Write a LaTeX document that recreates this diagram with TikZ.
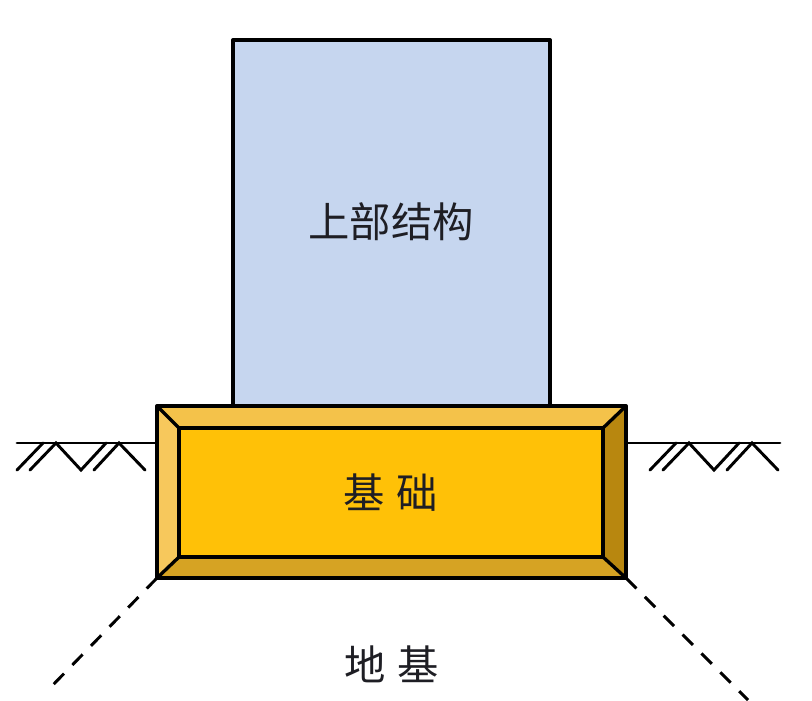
\documentclass[tikz,border=0pt]{standalone}
\usepackage{fontspec}
\newfontfamily\cjk{Noto Sans CJK SC}
\definecolor{blueFill}{HTML}{C6D6EF}
\definecolor{topB}{HTML}{F4C24A}
\definecolor{leftB}{HTML}{F7C85C}
\definecolor{midB}{HTML}{FFC107}
\definecolor{rightB}{HTML}{B8870F}
\definecolor{botB}{HTML}{D6A323}
\definecolor{txt}{HTML}{1E1E24}
\tikzset{
  edge/.style={line width=2.5pt, line join=round, draw=black},
  soil/.style={line width=2.2pt, line cap=round, line join=miter, draw=black},
  lbl/.style={font=\cjk\fontsize{31pt}{31pt}\selectfont, text=txt, inner sep=0pt},
  dashline/.style={line width=2.2pt, dash pattern=on 11pt off 9pt, draw=black}
}
\begin{document}
\begin{tikzpicture}[x=0.75pt,y=-0.75pt]
\useasboundingbox (0,0) rectangle (812,700);
\fill[white] (0,0) rectangle (812,700);
% upper structure
\draw[edge, fill=blueFill] (233,40) rectangle (550,420);
\node[lbl] (upper) at (391,222) {上部结构};
% foundation corners
\coordinate (o1) at (157,406);
\coordinate (o2) at (626,406);
\coordinate (o3) at (626,578);
\coordinate (o4) at (157,578);
\coordinate (i1) at (179,428);
\coordinate (i2) at (603,428);
\coordinate (i3) at (603,557);
\coordinate (i4) at (179,557);
\fill[topB] (o1) -- (o2) -- (i2) -- (i1) -- cycle;
\fill[rightB] (o2) -- (o3) -- (i3) -- (i2) -- cycle;
\fill[botB] (o3) -- (o4) -- (i4) -- (i3) -- cycle;
\fill[leftB] (o4) -- (o1) -- (i1) -- (i4) -- cycle;
\fill[midB] (i1) rectangle (i3);
\draw[edge] (i1) rectangle (i3);
\draw[edge] (o1) -- (i1) (o2) -- (i2) (o3) -- (i3) (o4) -- (i4);
\draw[edge] (o1) rectangle (o3);
\node[lbl] (found) at (391,493) {基\hspace{9pt}础};
% ground left
\coordinate (gl1) at (17,443);
\draw[soil] (gl1) -- (o1 |- gl1);
\draw[soil] (17,470) -- (43,443);
\draw[soil] (30,470) -- (56,443) -- (81,470) -- (106,443);
\draw[soil] (94,470) -- (119,443) -- (145,470);
% ground right
\coordinate (gr1) at (780,443);
\draw[soil] (o2 |- gr1) -- (gr1);
\draw[soil] (650,470) -- (676,443);
\draw[soil] (663,470) -- (689,443) -- (714,470) -- (739,443);
\draw[soil] (727,470) -- (752,443) -- (778,470);
% subsoil
\coordinate (dl) at (48,690);
\coordinate (dr) at (748,700);
\draw[dashline] (o4) -- (dl);
\draw[dashline] (o3) -- (dr);
\node[lbl] (soilt) at (392,664) {地\hspace{9pt}基};
\end{tikzpicture}
\end{document}
